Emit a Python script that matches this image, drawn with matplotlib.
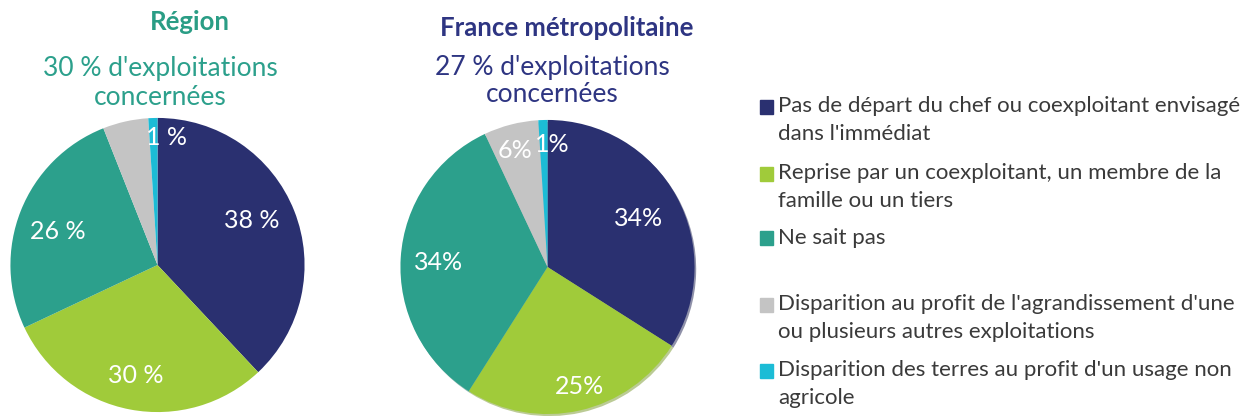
import matplotlib
matplotlib.use("Agg")
import matplotlib.pyplot as plt

categories = [
    "Pas de départ du chef ou coexploitant envisagé\ndans l'immédiat",
    "Reprise par un coexploitant, un membre de la\nfamille ou un tiers",
    "Ne sait pas",
    "Disparition au profit de l'agrandissement d'une\nou plusieurs autres exploitations",
    "Disparition des terres au profit d'un usage non\nagricole",
]
region_values = [38, 30, 26, 5, 1]
region_labels = ["38 %", "30 %", "26 %", "", "1 %"]
france_values = [34, 25, 34, 6, 1]
france_labels = ["34%", "25%", "34%", "6%", "1%"]
colors = ["#2a3070", "#a0cb3a", "#2ca08c", "#c4c4c4", "#1cbcd6"]

W, H = 1244, 416
fig = plt.figure(figsize=(W / 100, H / 100), dpi=100)
FONT = "Lato"

def add_pie(cx, cy, r, values, labels, label_pos, shadow=False):
    ax = fig.add_axes([(cx - r) / W, (H - cy - r) / H, 2 * r / W, 2 * r / H])
    ax.pie(values, colors=colors, startangle=90, counterclock=False, radius=1,
           wedgeprops=dict(linewidth=0),
           shadow=({'ox': 0.008, 'oy': -0.01, 'shade': 0.25} if shadow else False))
    ax.set_xlim(-1.02, 1.02)
    ax.set_ylim(-1.02, 1.02)
    ax.set_aspect("equal")
    ax.axis("off")
    for lab, pos in zip(labels, label_pos):
        if lab and pos:
            ax.text(pos[0], pos[1], lab, color="white", fontsize=18, family=FONT,
                    ha="center", va="center")
    return ax

add_pie(157.5, 265, 150, region_values, region_labels,
        [(0.64, 0.30), (-0.15, -0.75), (-0.68, 0.23), None, (0.06, 0.87)])
add_pie(547.5, 267, 150, france_values, france_labels,
        [(0.62, 0.33), (0.22, -0.81), (-0.74, 0.03), (-0.22, 0.79), (0.03, 0.83)],
        shadow=True)

# Titles
fig.text(190 / W, 1 - 22 / H, "Région", color="#2a9d85", fontsize=18.5,
         fontweight="bold", family=FONT, ha="center", va="center")
fig.text(160 / W, 1 - 83 / H, "30 % d'exploitations\nconcernées", color="#2ca08c",
         fontsize=19, family=FONT, ha="center", va="center", linespacing=1.2)
fig.text(567 / W, 1 - 28 / H, "France métropolitaine", color="#2e3582", fontsize=18.5,
         fontweight="bold", family=FONT, ha="center", va="center")
fig.text(552 / W, 1 - 81 / H, "27 % d'exploitations\nconcernées", color="#2e3582",
         fontsize=19, family=FONT, ha="center", va="center", linespacing=1.12)

# Legend
legend_y = [120, 187, 238, 318, 384]
for cat, col, y in zip(categories, colors, legend_y):
    first_y = y - (13.5 if "\n" in cat else 0)
    fig.patches.append(plt.Rectangle((760 / W, 1 - (first_y + 7) / H), 13 / W, 14 / H,
                                     transform=fig.transFigure, color=col))
    fig.text(778 / W, 1 - y / H, cat, color="#3a3a3a", fontsize=16, family=FONT,
             ha="left", va="center", linespacing=1.55)

fig.savefig("out.png", dpi=100)
